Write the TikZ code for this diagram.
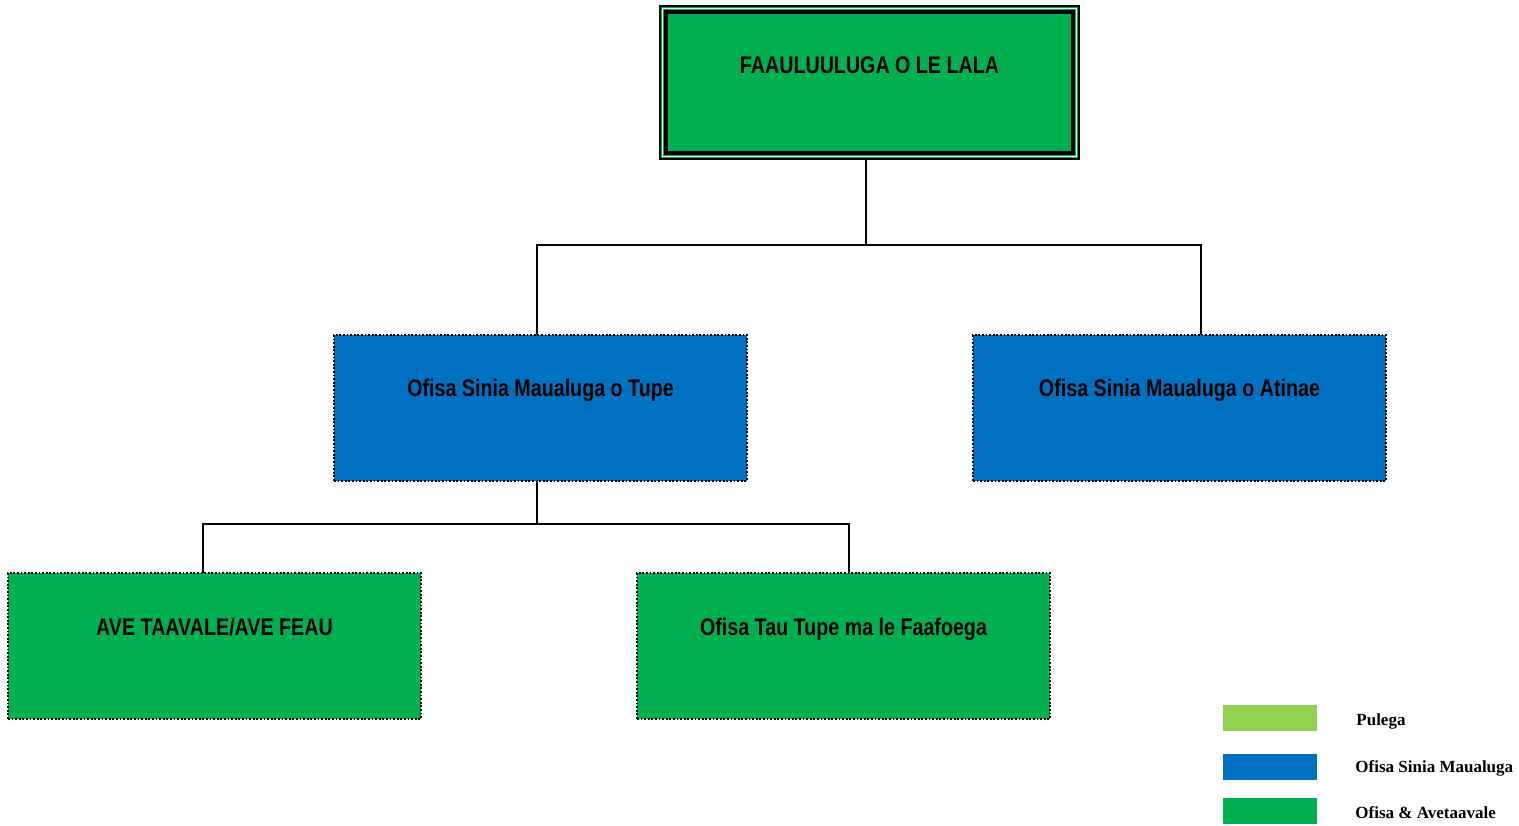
\documentclass[tikz,border=0pt]{standalone}
\usepackage{fontspec}
\newfontfamily\nbfont[FakeStretch=0.82]{Liberation Sans}
\newfontfamily\lgfont{Liberation Serif}
\definecolor{bxgreen}{HTML}{00B050}
\definecolor{bxblue}{HTML}{0070C0}
\definecolor{lgreen}{HTML}{92D050}
\begin{document}
\begin{tikzpicture}[x=0.5pt,y=-0.5pt,
  box/.style={draw=black,line width=0.9pt,dash pattern=on 0.9pt off 0.9pt,minimum width=206.5pt,minimum height=73pt,inner sep=0pt},
  lbl/.style={font=\nbfont\bfseries\fontsize{12}{14}\selectfont,anchor=base,inner sep=0pt},
  conn/.style={line width=1pt},
  sw/.style={minimum width=47pt,minimum height=13pt,inner sep=0pt},
  lgt/.style={font=\lgfont\bfseries\fontsize{8.5}{10}\selectfont,anchor=base west,inner sep=0pt}]
\useasboundingbox (0,0) rectangle (1519,825);
% top box
\node[fill=bxgreen,draw=black,line width=0.8pt,minimum width=209.5pt,minimum height=76.5pt,inner sep=0pt] (top) at (869.5,82.5) {};
\draw[white,line width=0.6pt] (662.5,8.5) rectangle (1076.5,156.5);
\draw[black,line width=1.6pt] (666,12) rectangle (1073,153);
\node[lbl] (ttop) at (869.5,73) {FAAULUULUGA O LE LALA};
% blue boxes
\node[box,fill=bxblue] (b1) at (540.5,408) {};
\node[lbl] (tb1) at (540.5,396) {Ofisa Sinia Maualuga o Tupe};
\node[box,fill=bxblue] (b2) at (1179.5,408) {};
\node[lbl] (tb2) at (1179.5,396) {Ofisa Sinia Maualuga o Atinae};
% green boxes
\node[box,fill=bxgreen] (g1) at (214.5,646) {};
\node[lbl] (tg1) at (214.5,635) {AVE TAAVALE/AVE FEAU};
\node[box,fill=bxgreen] (g2) at (843.5,646) {};
\node[lbl] (tg2) at (843.5,635) {Ofisa Tau Tupe ma le Faafoega};
% connectors
\coordinate (j1) at (866,245);
\coordinate (j2) at (537,524);
\draw[conn] (866,159) -- (j1);
\draw[conn] (j1) -| (537,335);
\draw[conn] (j1) -| (1201,335);
\draw[conn] (537,481) -- (j2);
\draw[conn] (j2) -| (203,573);
\draw[conn] (j2) -| (849,573);
% legend
\node[sw,fill=lgreen] (s1) at (1270,718) {};
\node[sw,fill=bxblue] (s2) at (1270,766.5) {};
\node[sw,fill=bxgreen] (s3) at (1270,811) {};
\node[lgt] (l1) at (1356,725) {Pulega};
\node[lgt] (l2) at (1355,772) {Ofisa Sinia Maualuga};
\node[lgt] (l3) at (1355,818) {Ofisa \& Avetaavale};
\end{tikzpicture}
\end{document}
